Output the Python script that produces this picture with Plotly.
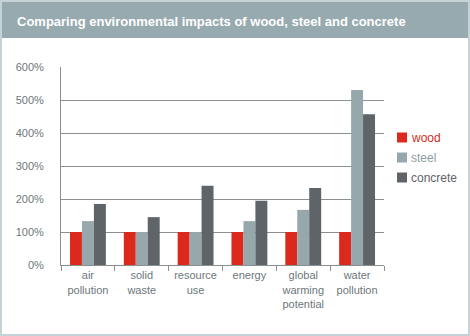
import plotly.graph_objects as go

# Environmental impact relative to wood (wood = 100%)
categories = ["air<br>pollution", "solid<br>waste", "resource<br>use", "energy",
              "global<br>warming<br>potential", "water<br>pollution"]
wood = [100, 100, 100, 100, 100, 100]
steel = [133, 100, 100, 133, 167, 530]
concrete = [185, 145, 240, 195, 233, 457]
series_names = ["wood", "steel", "concrete"]
y_ticks = [0, 100, 200, 300, 400, 500, 600]
y_tick_labels = [f"{v}%" for v in y_ticks]

W, H = 470, 336
L, R, T, B = 61, 384, 67, 265  # plot area in pixels

def px(x):
    return (x - L) / (R - L)

def py(y):
    return (B - y) / (B - T)

bar_colors = {"wood": "#dc291e", "steel": "#97a8ad", "concrete": "#5e6467"}
text_colors = {"wood": "#dc291e", "steel": "#8d9ea3", "concrete": "#5e6467"}
label_color = "#6d777a"
grid_color = "#8a8f91"
font_family = "Liberation Sans, Arial, sans-serif"

fig = go.Figure()
for name, vals in zip(series_names, (wood, steel, concrete)):
    fig.add_trace(go.Bar(
        x=categories, y=vals, name=name,
        marker=dict(color=bar_colors[name], line=dict(width=0)),
    ))

shapes = [
    # title band
    dict(type="rect", xref="paper", yref="paper", layer="below",
         x0=px(0), x1=px(W), y0=py(38), y1=py(0),
         fillcolor="#97aab0", line=dict(width=0)),
    # outer border
    dict(type="rect", xref="paper", yref="paper",
         x0=px(1), x1=px(W - 1), y0=py(H - 1), y1=py(1),
         line=dict(color="#c5d3d6", width=2)),
]
annotations = [
    dict(text="<b>Comparing environmental impacts of wood, steel and concrete</b>",
         xref="paper", yref="paper", x=px(15), y=py(21),
         xanchor="left", yanchor="middle", showarrow=False,
         font=dict(size=13, color="white", family=font_family)),
]

# legend: colour swatch + label, stacked on the right
for i, name in enumerate(series_names):
    cy = 137.5 + 20 * i
    shapes.append(dict(type="rect", xref="paper", yref="paper",
                       x0=px(397), x1=px(407), y0=py(cy + 5), y1=py(cy - 5),
                       fillcolor=bar_colors[name], line=dict(width=0)))
    annotations.append(dict(text=name, xref="paper", yref="paper",
                            x=px(409), y=py(cy), xanchor="left", yanchor="middle",
                            showarrow=False,
                            font=dict(size=12, color=text_colors[name], family=font_family)))

fig.update_layout(
    width=W, height=H,
    margin=dict(l=L, r=W - R, t=T, b=H - B),
    paper_bgcolor="white", plot_bgcolor="white",
    barmode="group", bargap=1/3, bargroupgap=0,
    font=dict(family=font_family, size=11, color=label_color),
    showlegend=False,
    xaxis=dict(showgrid=False, showline=True, linecolor=grid_color, linewidth=1,
               ticks="outside", tickson="boundaries", ticklen=5, tickcolor=grid_color,
               tickangle=0,
               tickfont=dict(size=11, color=label_color), fixedrange=True),
    yaxis=dict(range=[0, 600], tickmode="array", tickvals=y_ticks, ticktext=y_tick_labels,
               showgrid=True, gridcolor=grid_color, gridwidth=1,
               showline=True, linecolor=grid_color, linewidth=1,
               zeroline=False, ticks="", ticklabelstandoff=14,
               tickfont=dict(size=11, color=label_color), fixedrange=True),
    shapes=shapes,
    annotations=annotations,
)

fig.write_html("out.html")
